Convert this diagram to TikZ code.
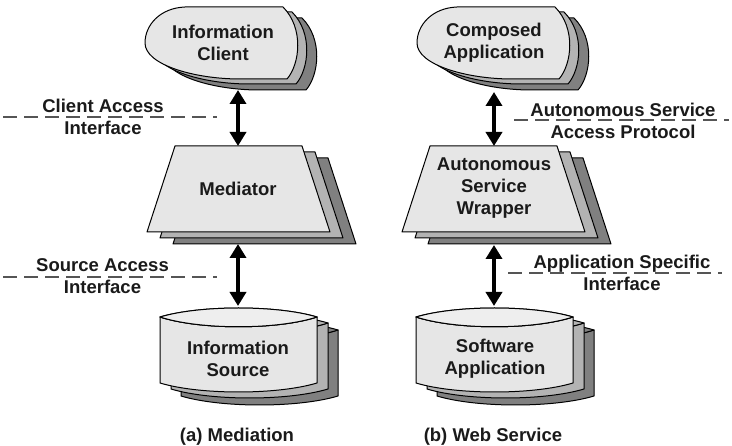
\documentclass[tikz,border=0pt]{standalone}
\usepackage{fontspec}
\setmainfont{Liberation Sans}
\usetikzlibrary{arrows.meta}
\definecolor{shapeA}{HTML}{E6E6E6}
\definecolor{shapeB}{HTML}{B3B3B3}
\definecolor{shapeC}{HTML}{808080}
\definecolor{capc}{HTML}{EEEEEE}
\definecolor{txt}{HTML}{1A1A1A}
\definecolor{dashc}{HTML}{555555}
\newcommand\dispoutline{(283,7) -- (185,7) .. controls (160,8) and (145,25) .. (145,43) .. controls (145,65) and (195,79) .. (240,79) -- (287,79) .. controls (300,64) and (304,28) .. (283,7) -- cycle}
\newcommand\trapoutline{(175,146) -- (302,146) -- (330,232) -- (147,232) -- cycle}
\newcommand\cylbody{(160,317) -- (160,383) .. controls (200,395) and (277,395) .. (317,383) -- (317,317) .. controls (277,330) and (200,330) .. (160,317) -- cycle}
\newcommand\cylcap{(160,317) .. controls (200,305) and (277,305) .. (317,317) .. controls (277,330) and (200,330) .. (160,317) -- cycle}
\begin{document}
\begin{tikzpicture}[x=1pt,y=-1pt,
  outl/.style={draw=black,line width=1pt,line join=round},
  lbl/.style={font=\fontsize{18.5}{22}\selectfont\bfseries,text=txt,align=center,inner sep=0pt},
  iface/.style={draw=dashc,line width=2pt,dash pattern=on 14pt off 7pt},
  link/.style={line width=4pt,{Triangle[width=16pt,length=14pt]}-{Triangle[width=16pt,length=14pt]}}]
\useasboundingbox (0,0) rectangle (732,446);
% display shapes
\foreach \ox in {0,272}{
  \foreach \dx/\dy/\c in {19/11/shapeC,9/5/shapeB,0/0/shapeA}{
    \path[outl,fill=\c,shift={(\ox+\dx,\dy)}] \dispoutline;
  }
}
% trapezoids
\foreach \ox in {0,255}{
  \foreach \dx/\dy/\c in {26/12/shapeC,13/6/shapeB,0/0/shapeA}{
    \path[outl,fill=\c,shift={(\ox+\dx,\dy)}] \trapoutline;
  }
}
% cylinders
\foreach \ox in {0,256}{
  \foreach \dx/\dy/\c in {21/13/shapeC,11/6/shapeB,0/0/shapeA}{
    \path[outl,fill=\c,shift={(\ox+\dx,\dy)}] \cylbody;
    \path[outl,fill=\c,shift={(\ox+\dx,\dy)}] \cylcap;
  }
  \path[outl,fill=capc,shift={(\ox,0)}] \cylcap;
}
% shape texts
\node[lbl] (client) at (223,42.5) {Information\\Client};
\node[lbl] (compapp) at (494,42.5) {Composed\\Application};
\node[lbl] (mediator) at (238,189) {Mediator};
\node[lbl] (wrapper) at (494,188.5) {Autonomous\\Service\\Wrapper};
\node[lbl] (source) at (238,359) {Information\\Source};
\node[lbl] (softapp) at (495,358.5) {Software\\Application};
% captions
\node[lbl] (capa) at (237,437) {(a) Mediation};
\node[lbl] (capb) at (493,437) {(b) Web Service};
% interface lines
\coordinate (cail) at (3,117);   \coordinate (cair) at (217,117);
\coordinate (sail) at (3,277);   \coordinate (sair) at (217,277);
\coordinate (asal) at (514,120); \coordinate (asar) at (729,120);
\coordinate (asil) at (508,273); \coordinate (asir) at (722,273);
\draw[iface] (cail) -- (cair);
\draw[iface] (sail) -- (sair);
\draw[iface] (asal) -- (asar);
\draw[iface] (asil) -- (asir);
\node[lbl] (cai) at (103,117) {Client Access\\Interface};
\node[lbl] (sai) at (102.5,276.5) {Source Access\\Interface};
\node[lbl] (asap) at (623,121) {Autonomous Service\\Access Protocol};
\node[lbl] (asi) at (622,273) {Application Specific\\Interface};
% arrow ends
\coordinate (a1t) at (238,90);  \coordinate (a1b) at (238,146);
\coordinate (a2t) at (238,244); \coordinate (a2b) at (238,306);
\coordinate (b1t) at (494,92);  \coordinate (b1b) at (494,146);
\coordinate (b2t) at (494,245); \coordinate (b2b) at (494,306);
\draw[link] (a1t) -- (a1b);
\draw[link] (a2t) -- (a2b);
\draw[link] (b1t) -- (b1b);
\draw[link] (b2t) -- (b2b);
\end{tikzpicture}
\end{document}
